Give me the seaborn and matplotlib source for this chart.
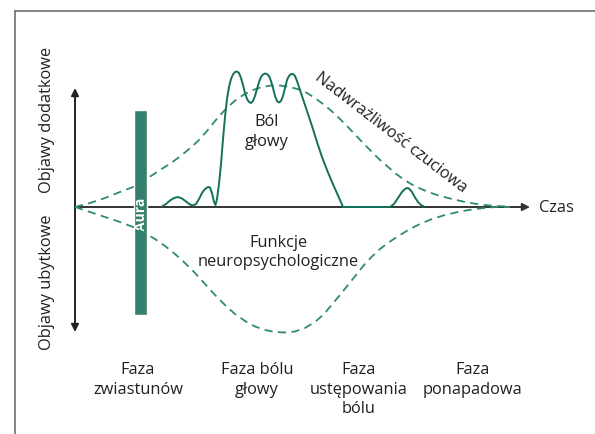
import pandas as pd
import numpy as np
import matplotlib
matplotlib.use('Agg')
import matplotlib.pyplot as plt
import seaborn as sns
from matplotlib.lines import Line2D

sns.set_style('white')
plt.rcParams['font.family'] = ['Open Sans', 'DejaVu Sans']

# schematic units: time along x, symptom intensity along y (+ positive symptoms, - deficits)
# headache intensity (solid line)
pain_t = [87, 91, 95, 99, 103, 107, 111, 115, 118, 121, 124, 127, 130, 133, 135, 137, 139, 140.5, 142, 144,
          146, 148, 150, 152, 154, 156, 158, 160, 162, 164, 166, 168, 170, 172, 174, 176, 178, 180, 182, 184,
          186, 188, 190, 192, 194, 196, 198, 200, 202, 204, 206, 208, 210, 212, 214, 216, 218, 220, 222, 225,
          228, 232, 237, 242, 247, 252, 257, 261, 265, 268, 315, 319, 323, 327, 330, 332, 334, 337, 340, 343,
          346, 349]
pain_v = [0.5, 3, 6.5, 9, 10, 8.5, 5.5, 2.5, 1.5, 3, 8, 14, 18, 20, 19.5, 14, 5, 2, 8, 23,
          43, 68, 90, 108, 120, 128, 132.5, 135, 135.5, 134, 129, 122, 114, 108, 105, 104, 106, 111, 118, 125,
          130, 132.5, 133.5, 133, 131, 126, 119, 111, 106, 104.5, 106, 111, 119, 127, 131, 133, 133, 131, 126, 117,
          108, 96, 81, 65, 50, 37, 25, 16, 7, 0, 0, 3, 9, 15, 18, 19, 18.5, 15, 9.5, 5,
          2, 0.5]

# sensory hypersensitivity (upper dashed)
hyper_t = [0, 15, 30, 45, 58, 70, 82, 93, 103, 113, 123, 132, 140, 147, 154, 162, 170, 178, 187, 196,
           205, 215, 224, 232, 240, 248, 256, 264, 272, 280, 288, 296, 304, 312, 320, 328, 336, 344, 352, 362,
           375, 390, 405, 420, 435]
hyper_v = [0, 4, 9, 15, 20, 27, 35, 42, 49, 57, 66, 76, 86, 94, 101, 108, 113, 117, 120, 121.5,
           121.5, 120, 117.5, 114, 109, 103, 96.5, 89, 81, 72.5, 64, 56, 48, 41, 34, 28, 23, 19, 15.5, 12,
           8.5, 5, 2.5, 1, 0.5]

# neuropsychological functions (lower dashed)
neuro_t = [0, 15, 30, 45, 58, 70, 80, 90, 100, 110, 120, 130, 140, 150, 160, 170, 180, 190, 200, 210,
           220, 230, 240, 249, 257, 265, 273, 281, 289, 297, 305, 315, 325, 335, 345, 357, 370, 385, 400, 420,
           435]
neuro_v = [0, -5, -10, -15, -20, -26, -32, -39, -47, -56, -66, -77, -88, -98, -107, -114, -119.5, -123, -125, -125.5,
           -124.5, -121, -115, -107, -97.5, -88, -78, -68, -58, -49.5, -42, -34.5, -28, -22, -17, -12, -8, -4.5, -2, 0,
           0]

# aura bar
aura_start, aura_end = 59, 72
aura_top, aura_bottom = 97, -108

phase_labels = ['Faza\nzwiastunów', 'Faza bólu\ngłowy', 'Faza\nustępowania\nbólu', 'Faza\nponapadowa']
phase_x = [138, 257, 359, 473]

dark = '#14705a'
dashc = '#2f8a72'
barc = '#357f6d'
txt = '#231f20'

fig = plt.figure(figsize=(5.95, 4.35), dpi=100)
ax = fig.add_axes([0, 0, 1, 1])
ax.set_xlim(-75, 520)
ax.set_ylim(-227, 208)
ax.axis('off')

ax.bar((aura_start + aura_end) / 2, aura_top - aura_bottom, bottom=aura_bottom,
       width=aura_end - aura_start, color=barc, zorder=2)
ax.text((aura_start + aura_end) / 2 + 0.5, -6, 'Aura', rotation=90, color='white',
        fontsize=10, fontweight='bold', ha='center', va='center', zorder=3)

df_h = pd.DataFrame({'t': hyper_t, 'v': hyper_v})
df_n = pd.DataFrame({'t': neuro_t, 'v': neuro_v})
df_p = pd.DataFrame({'t': pain_t, 'v': pain_v})
sns.lineplot(data=df_h, x='t', y='v', ax=ax, color=dashc, lw=1.3, linestyle=(0, (4.5, 3)), sort=False, zorder=4)
sns.lineplot(data=df_n, x='t', y='v', ax=ax, color=dashc, lw=1.3, linestyle=(0, (4.5, 3)), sort=False, zorder=4)
sns.lineplot(data=df_p, x='t', y='v', ax=ax, color=dark, lw=1.4, sort=False, zorder=5)

# axes arrows
arr = dict(arrowstyle='-|>', lw=1.4, mutation_scale=11, shrinkA=0, shrinkB=0)
ax.annotate('', xy=(455, 0), xytext=(0, 0), arrowprops=dict(arr, color='#333333'), zorder=1)
ax.annotate('', xy=(0, 119), xytext=(0, 0), arrowprops=dict(arr, color='#222222'))
ax.annotate('', xy=(0, -125), xytext=(0, 0), arrowprops=dict(arr, color='#222222'))

# frame
fig.add_artist(Line2D([15 / 595, 1], [1 - 12 / 435, 1 - 12 / 435], color='#707070', lw=1.2))
fig.add_artist(Line2D([15 / 595, 15 / 595], [0, 1 - 12 / 435], color='#707070', lw=1.2))

def px(x, y):
    return x / 595, 1 - y / 435

fs = 11.8
fig.text(*px(539, 208), 'Czas', fontsize=fs, color=txt, ha='left', va='center')
fig.text(*px(267, 132), 'Ból\ngłowy', fontsize=fs, color=txt, ha='center', va='center', linespacing=1.35)
fig.text(*px(278, 253), 'Funkcje\nneuropsychologiczne', fontsize=fs, color=txt, ha='center', va='center', linespacing=1.25)
fig.text(*px(391, 133), 'Nadwrażliwość czuciowa', fontsize=fs, color=txt, ha='center', va='center',
         rotation=-37.5, rotation_mode='anchor')
fig.text(*px(47, 120), 'Objawy dodatkowe', fontsize=fs, color=txt, ha='center', va='center', rotation=90)
fig.text(*px(47, 282), 'Objawy ubytkowe', fontsize=fs, color=txt, ha='center', va='center', rotation=90)
for lab, x in zip(phase_labels, phase_x):
    fig.text(*px(x, 362), lab, fontsize=fs, color=txt, ha='center', va='top', linespacing=1.3)

fig.savefig('out.png', dpi=100)
